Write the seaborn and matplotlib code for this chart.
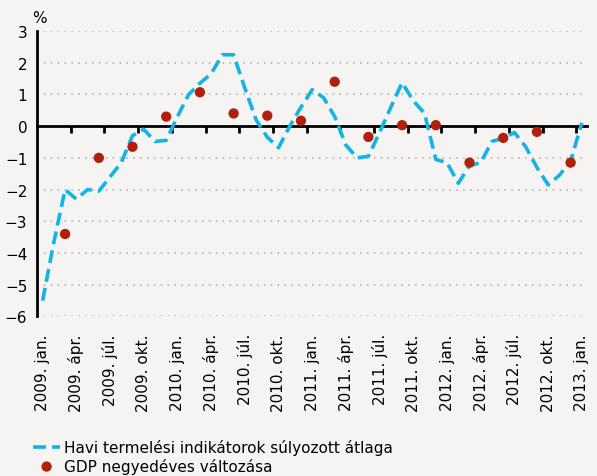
import numpy as np
import pandas as pd
import matplotlib
matplotlib.use("Agg")
import matplotlib.pyplot as plt
import seaborn as sns

# havi termelési indikátorok súlyozott átlaga (2009. jan. - 2013. jan.)
havi = [-5.5, -3.65, -2.0, -2.3, -2.0, -2.05, -1.6, -1.15, -0.3, -0.1, -0.48, -0.45,
        0.3, 1.0, 1.35, 1.65, 2.25, 2.25, 1.2, 0.2, -0.35, -0.68, 0.0, 0.6,
        1.15, 0.9, 0.3, -0.6, -1.0, -0.95, -0.2, 0.6, 1.37, 0.8, 0.4, -1.05,
        -1.15, -1.8, -1.25, -1.15, -0.48, -0.38, -0.2, -0.65, -1.3, -1.85, -1.55, -1.1,
        0.1]

# GDP negyedéves változása (negyedév utolsó hónapja)
gdp = [-3.4, -1.0, -0.65, 0.3, 1.07, 0.4, 0.33, 0.17,
       1.4, -0.34, 0.03, 0.03, -1.15, -0.37, -0.18, -1.15]

evek = ["2009", "2010", "2011", "2012", "2013"]
honapok = ["jan.", "ápr.", "júl.", "okt."]
cimkek = [f"{ev}. {h}" for ev in evek for h in honapok][:17]

df_havi = pd.DataFrame({"ho": np.arange(len(havi)), "ertek": havi})
df_gdp = pd.DataFrame({"ho": np.arange(2, 3 * len(gdp), 3), "ertek": gdp})

bg = "#f5f4f2"
sns.set_style("white")
plt.rcParams["font.family"] = ["DejaVu Sans"]
plt.rcParams["text.color"] = "black"
plt.rcParams["xtick.color"] = "black"
plt.rcParams["ytick.color"] = "black"

fig = plt.figure(figsize=(5.97, 4.77), dpi=100, facecolor=bg)
ax = fig.add_axes([0.062, 0.3344, 0.922, 0.5986])
ax.set_facecolor(bg)

sns.lineplot(data=df_havi, x="ho", y="ertek", ax=ax, color="#12b4e3",
             linewidth=2.6, label="Havi termelési indikátorok súlyozott átlaga",
             zorder=3)
ax.lines[0].set_dashes([3.6, 1.7])
sns.scatterplot(data=df_gdp, x="ho", y="ertek", ax=ax, color="#b0200c",
                s=55, edgecolor="none", label="GDP negyedéves változása", zorder=4)

ax.set_xlim(-0.5, 48.5)
ax.set_ylim(-6, 3)
ax.set_yticks(range(-6, 4))
ax.set_xticks(range(0, 49, 3))
ax.set_xticklabels(cimkek, rotation=90)
ax.set_xlabel("")
ax.set_ylabel("")
ax.tick_params(axis="x", length=0, pad=12, labelsize=11)
ax.tick_params(axis="y", direction="out", length=5, width=2, pad=2, labelsize=11)

ax.yaxis.grid(True, linestyle=(0, (1, 3.5)), color="#a8a8a8", linewidth=1.1)
ax.xaxis.grid(False)
for i, t in enumerate(range(-6, 4)):
    if t == 0:
        ax.yaxis.get_gridlines()[i].set_visible(False)

for s in ["top", "right", "bottom"]:
    ax.spines[s].set_visible(False)
ax.spines["left"].set_color("black")
ax.spines["left"].set_linewidth(2)

# nulla tengely a negyedéves határoknál lévő osztásokkal
nulla = ax.secondary_xaxis(6 / 9)
nulla.set_xticks(np.arange(2.5, 48, 3))
nulla.tick_params(direction="in", length=5, width=2, labeltop=False, labelbottom=False)
nulla.spines["top"].set_linewidth(2)
nulla.spines["top"].set_color("black")

ax.text(0.005, 1.02, "%", transform=ax.transAxes, fontsize=11, ha="center", va="bottom")

handles, labels = ax.get_legend_handles_labels()
ax.get_legend().remove()
fig.legend(handles, labels, loc="upper left", bbox_to_anchor=(0.055, 0.077),
           frameon=False, fontsize=11, handlelength=1.8, handletextpad=0.25,
           labelspacing=0.15, borderpad=0, borderaxespad=0)

fig.savefig("out.png", dpi=100, facecolor=bg)
